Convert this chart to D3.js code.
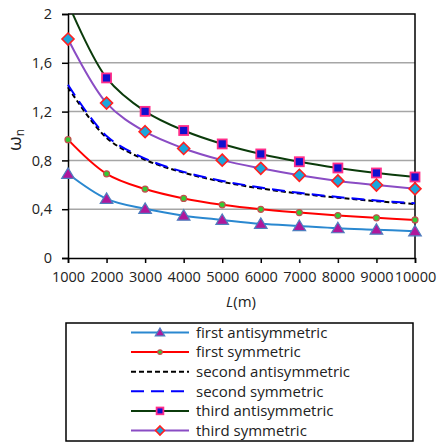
<!DOCTYPE html>
<html><head><meta charset="utf-8">
<script src="https://cdn.jsdelivr.net/npm/d3@7"></script>
<style>body{margin:0;background:#fff}svg{display:block}text{font-family:"Open Sans",sans-serif;fill:#222}</style>
</head><body><svg id="c" width="438" height="442"></svg>
<script>
const lengths = [1000,2000,3000,4000,5000,6000,7000,8000,9000,10000];
const firstAntisym  = [0.69,0.485,0.403,0.347,0.312,0.280,0.262,0.244,0.232,0.219];
const firstSym      = [0.97,0.690,0.565,0.488,0.436,0.399,0.372,0.348,0.329,0.312];
const secondAntisym = [1.40,0.985,0.805,0.700,0.625,0.570,0.528,0.494,0.466,0.442];
const secondSym     = [1.42,1.000,0.815,0.706,0.632,0.577,0.534,0.500,0.471,0.448];
const thirdAntisym  = [2.09,1.476,1.202,1.045,0.935,0.853,0.789,0.738,0.697,0.664];
const thirdSym      = [1.795,1.270,1.035,0.898,0.802,0.735,0.678,0.632,0.598,0.567];
const yTicks = [0,0.4,0.8,1.2,1.6,2];
const seriesNames = ["first antisymmetric","first symmetric","second antisymmetric","second symmetric","third antisymmetric","third symmetric"];

const series = [
  {name:seriesNames[0], values:firstAntisym, color:"#2a88d0", dash:null, marker:"triangle", mFill:"#b0179b", mStroke:"#4f7fbf"},
  {name:seriesNames[1], values:firstSym, color:"#ff0000", dash:null, marker:"circle", mFill:"#33cc33", mStroke:"#c0504d"},
  {name:seriesNames[2], values:secondAntisym, color:"#000000", dash:"5,3", marker:null},
  {name:seriesNames[3], values:secondSym, color:"#0000ff", dash:"13,7", marker:null},
  {name:seriesNames[4], values:thirdAntisym, color:"#0b3b0b", dash:null, marker:"square", mFill:"#1010d0", mStroke:"#ff2d8a"},
  {name:seriesNames[5], values:thirdSym, color:"#8a4cc4", dash:null, marker:"diamond", mFill:"#1aa6dc", mStroke:"#ff2020"}
];

const svg = d3.select("#c");
const L = 68, R = 415, T = 14, B = 258;
const x = d3.scaleLinear().domain([1000,10000]).range([L,R]);
const y = d3.scaleLinear().domain([0,2]).range([B,T]);

// gridlines
svg.append("g").selectAll("line").data(yTicks.filter(v=>v>0&&v<2)).join("line")
  .attr("x1",L).attr("x2",R).attr("y1",d=>y(d)).attr("y2",d=>y(d))
  .attr("stroke","#a6a6a6").attr("stroke-width",1.5);
// border top/right
svg.append("path").attr("d",`M${L},${T}H${R}V${B}`).attr("fill","none").attr("stroke","#000").attr("stroke-width",1.5);

// axes
const yAxis = d3.axisLeft(y).tickValues(yTicks).tickSize(6).tickPadding(10)
  .tickFormat(d=>d3.format("")(d).replace(".",","));
const gy = svg.append("g").attr("transform",`translate(${L},0)`).call(yAxis);
const xAxis = d3.axisBottom(x).tickValues(lengths).tickSize(5).tickPadding(6).tickFormat(d3.format("d"));
const gx = svg.append("g").attr("transform",`translate(0,${B})`).call(xAxis);
[gy,gx].forEach(g=>{
  g.select(".domain").attr("stroke","#000").attr("stroke-width",1.5);
  g.selectAll(".tick line").attr("stroke","#000").attr("stroke-width",1.5);
  g.selectAll("text").style("font-size","14.5px").attr("fill","#222");
});
gx.selectAll("text").attr("dy","0.9em");

// clip
svg.append("clipPath").attr("id","clip").append("rect").attr("x",L-8).attr("y",T).attr("width",R-L+16).attr("height",B-T+8);

const line = d3.line().x((d,i)=>x(lengths[i])).y(d=>y(d)).curve(d3.curveCatmullRom.alpha(0.5));

function drawMarker(g, type, cx, cy, s, scale){
  scale = scale||1;
  if(type==="triangle"){
    const r=6*scale;
    g.append("path").attr("d",`M${cx},${cy-r}L${cx+r*1.05},${cy+r*0.75}L${cx-r*1.05},${cy+r*0.75}Z`)
      .attr("fill",s.mFill).attr("stroke",s.mStroke).attr("stroke-width",1.2);
  } else if(type==="circle"){
    g.append("circle").attr("cx",cx).attr("cy",cy).attr("r",3*scale)
      .attr("fill",s.mFill).attr("stroke",s.mStroke).attr("stroke-width",1.2);
  } else if(type==="square"){
    const h=4.5*scale;
    g.append("rect").attr("x",cx-h).attr("y",cy-h).attr("width",2*h).attr("height",2*h)
      .attr("fill",s.mFill).attr("stroke",s.mStroke).attr("stroke-width",1.8);
  } else if(type==="diamond"){
    const r=6*scale;
    g.append("path").attr("d",`M${cx},${cy-r}L${cx+r},${cy}L${cx},${cy+r}L${cx-r},${cy}Z`)
      .attr("fill",s.mFill).attr("stroke",s.mStroke).attr("stroke-width",1.6);
  }
}

const plot = svg.append("g").attr("clip-path","url(#clip)");
series.forEach(s=>{
  plot.append("path").datum(s.values).attr("d",line).attr("fill","none")
    .attr("stroke",s.color).attr("stroke-width",2).attr("stroke-dasharray",s.dash);
});
series.forEach(s=>{
  if(!s.marker) return;
  const g = plot.append("g");
  s.values.forEach((v,i)=>{ if(v<=2) drawMarker(g,s.marker,x(lengths[i]),y(v),s); });
});

// axis titles
const yl = svg.append("text").attr("transform","translate(21,140) rotate(-90)").attr("text-anchor","middle");
yl.append("tspan").text("ω").style("font-size","19px");
yl.append("tspan").text("n").style("font-size","12px").attr("dy","3");
const xl = svg.append("text").attr("x",241).attr("y",307).attr("text-anchor","middle").style("font-size","15px");
xl.append("tspan").text("L").style("font-style","italic");
xl.append("tspan").text("(m)");

// legend
const lg = svg.append("g");
lg.append("rect").attr("x",66).attr("y",323).attr("width",347).attr("height",118)
  .attr("fill","#fff").attr("stroke","#000").attr("stroke-width",1.5);
series.forEach((s,i)=>{
  const cy = 332.5 + i*19.6;
  lg.append("line").attr("x1",131).attr("x2",189).attr("y1",cy).attr("y2",cy)
    .attr("stroke",s.color).attr("stroke-width",2).attr("stroke-dasharray",s.dash);
  if(s.marker) drawMarker(lg,s.marker,160,cy,s,0.75);
  lg.append("text").attr("x",196).attr("y",cy).attr("dy","0.35em").style("font-size","15px").text(s.name);
});
</script></body></html>
